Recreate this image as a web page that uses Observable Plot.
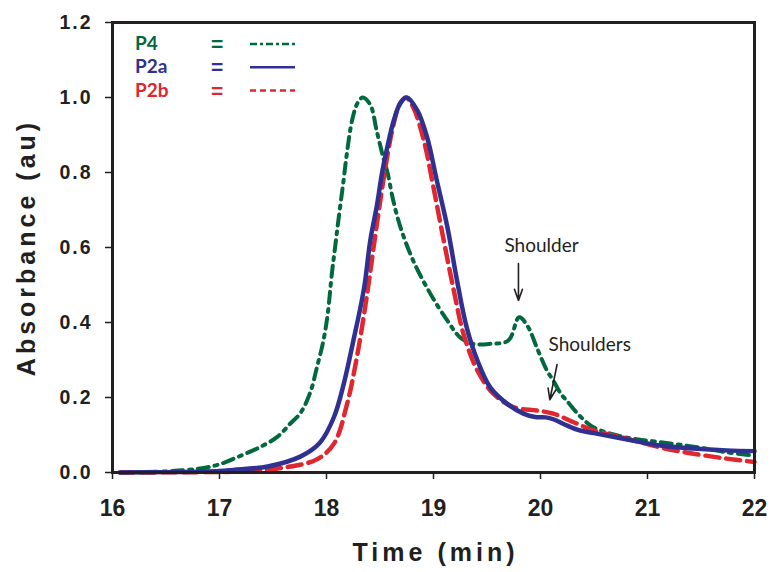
<!DOCTYPE html>
<html>
<head>
<meta charset="utf-8">
<script src="https://cdn.jsdelivr.net/npm/d3@7"></script>
<script src="https://cdn.jsdelivr.net/npm/@observablehq/plot@0.6"></script>
<style>
  body { margin: 0; background: #fff; }
  #wrap { position: relative; width: 772px; height: 572px; }
  #legend { position: absolute; left: 0; top: 0; width: 772px; height: 120px; pointer-events: none; }
</style>
</head>
<body>
<div id="wrap"></div>
<script>
// ---- data ----
const seriesNames = ["P4", "P2a", "P2b"];
const seriesColors = ["#00693e", "#2e3192", "#e0262f"];

const p4Time = [16.07, 16.5, 16.8, 17.0, 17.2, 17.38, 17.54, 17.66, 17.76, 17.85, 17.91, 17.97, 18.01, 18.05, 18.08, 18.11, 18.16, 18.19, 18.24, 18.29, 18.34, 18.41, 18.47, 18.53, 18.57, 18.62, 18.69, 18.81, 18.97, 19.13, 19.25, 19.37, 19.53, 19.70, 19.80, 19.88, 19.97, 20.06, 20.12, 20.19, 20.25, 20.37, 20.5, 20.81, 21.12, 21.43, 21.74, 22.0];
const p4Abs  = [0.0, 0.003, 0.01, 0.022, 0.045, 0.068, 0.095, 0.13, 0.16, 0.215, 0.28, 0.35, 0.42, 0.53, 0.60, 0.67, 0.78, 0.85, 0.94, 0.985, 1.0, 0.98, 0.91, 0.84, 0.80, 0.73, 0.655, 0.565, 0.477, 0.405, 0.36, 0.343, 0.343, 0.352, 0.414, 0.39, 0.33, 0.272, 0.245, 0.21, 0.19, 0.15, 0.12, 0.093, 0.081, 0.069, 0.054, 0.045];

const p2aTime = [16.07, 16.5, 17.0, 17.13, 17.45, 17.76, 17.94, 18.07, 18.16, 18.25, 18.35, 18.41, 18.47, 18.52, 18.57, 18.63, 18.69, 18.75, 18.85, 18.94, 19.03, 19.13, 19.22, 19.31, 19.41, 19.53, 19.69, 19.84, 19.95, 20.05, 20.12, 20.25, 20.37, 20.5, 20.81, 21.12, 21.43, 21.74, 22.0];
const p2aAbs  = [0.0, 0.001, 0.004, 0.007, 0.016, 0.043, 0.08, 0.148, 0.235, 0.35, 0.49, 0.62, 0.71, 0.80, 0.87, 0.94, 0.985, 1.0, 0.965, 0.894, 0.78, 0.654, 0.512, 0.387, 0.299, 0.227, 0.183, 0.157, 0.148, 0.147, 0.142, 0.125, 0.112, 0.105, 0.088, 0.072, 0.064, 0.059, 0.057];

const p2bTime = [16.07, 16.8, 17.22, 17.6, 17.91, 18.07, 18.19, 18.29, 18.38, 18.44, 18.5, 18.56, 18.62, 18.68, 18.74, 18.81, 18.91, 19.0, 19.09, 19.19, 19.28, 19.41, 19.56, 19.75, 19.97, 20.12, 20.31, 20.5, 20.81, 21.12, 21.43, 21.74, 22.0];
const p2bAbs  = [0.0, 0.001, 0.003, 0.013, 0.035, 0.077, 0.18, 0.317, 0.477, 0.60, 0.72, 0.83, 0.92, 0.98, 1.0, 0.974, 0.885, 0.76, 0.627, 0.485, 0.37, 0.272, 0.21, 0.174, 0.165, 0.157, 0.134, 0.112, 0.09, 0.067, 0.05, 0.037, 0.028];

const xTicks = [16, 17, 18, 19, 20, 21, 22];
const yTicks = [0, 0.2, 0.4, 0.6, 0.8, 1.0, 1.2];
const xTitle = "Time (min)";
const yTitle = "Absorbance (au)";

const noteText = ["Shoulder", "Shoulders"];
const noteTime = [20.01, 20.075];
const noteAbs  = [0.587, 0.323];
const noteAnchor = ["middle", "start"];
const arrowFromTime = [19.794, 20.155];
const arrowFromAbs  = [0.557, 0.288];
const arrowToTime   = [19.794, 20.087];
const arrowToAbs    = [0.459, 0.194];

// ---- build ----
const rows = (t, a) => t.map((x, i) => ({time: x, abs: a[i]}));
const p4 = rows(p4Time, p4Abs), p2a = rows(p2aTime, p2aAbs), p2b = rows(p2bTime, p2bAbs);
const notes = noteText.map((s, i) => ({text: s, time: noteTime[i], abs: noteAbs[i], anchor: noteAnchor[i]}));
const arrows = arrowFromTime.map((t, i) => ({x1: t, y1: arrowFromAbs[i], x2: arrowToTime[i], y2: arrowToAbs[i]}));

const ink = "#231f20";
const font = "'Liberation Sans', Arial, Helvetica, sans-serif";
const noteFont = "Lato, 'Open Sans', sans-serif";

const noteMarks = ["middle", "start"].map(a =>
  Plot.text(notes.filter(d => d.anchor === a), {x: "time", y: "abs", text: "text", textAnchor: a, lineAnchor: "bottom", fontSize: 19, fontFamily: noteFont, fill: ink})
);

const chart = Plot.plot({
  width: 772, height: 572,
  marginLeft: 112, marginRight: 18, marginTop: 22, marginBottom: 100,
  style: {fontFamily: font, color: ink, background: "#fff"},
  x: {domain: [16, 22]},
  y: {domain: [0, 1.2]},
  marks: [
    Plot.axisX({ticks: xTicks, tickSize: 7, tickPadding: 20, fontSize: 23, fontWeight: "bold", tickFormat: d3.format("d"), label: null, stroke: ink, strokeWidth: 1.5, fill: ink}),
    Plot.axisY({ticks: yTicks, tickSize: 7, tickPadding: 13, fontSize: 19.5, fontWeight: "bold", tickFormat: d3.format(".1f"), label: null, stroke: ink, strokeWidth: 1.5, fill: ink}),
    Plot.line(p4, {x: "time", y: "abs", stroke: seriesColors[0], strokeWidth: 4, strokeDasharray: "11,6,3,6", curve: "catmull-rom"}),
    Plot.line(p2b, {x: "time", y: "abs", stroke: seriesColors[2], strokeWidth: 4.5, strokeDasharray: "14,7", curve: "catmull-rom"}),
    Plot.line(p2a, {x: "time", y: "abs", stroke: seriesColors[1], strokeWidth: 4.5, curve: "catmull-rom"}),
    Plot.arrow(arrows, {x1: "x1", y1: "y1", x2: "x2", y2: "y2", stroke: ink, strokeWidth: 1.6, headLength: 11, headAngle: 40}),
    ...noteMarks,
    Plot.frame({stroke: ink, strokeWidth: 3}),
    Plot.text([xTitle], {frameAnchor: "bottom", textAnchor: "middle", dy: 88, dx: 2, lineAnchor: "bottom", fontSize: 25, fontWeight: "bold", fill: ink}),
    Plot.text([yTitle], {frameAnchor: "left", textAnchor: "middle", dx: -78, rotate: -90, lineAnchor: "bottom", fontSize: 25, fontWeight: "bold", fill: ink})
  ]
});

// letter spacing for tick labels and axis titles
chart.querySelectorAll("text").forEach(t => {
  const s = t.textContent;
  if (s === xTitle || s === yTitle) t.setAttribute("letter-spacing", "4");
  else if (/^\d\.\d$/.test(s)) t.setAttribute("letter-spacing", "2");
});

const wrap = document.getElementById("wrap");
wrap.appendChild(chart);

// ---- legend (inside the frame, top-left) ----
const dashes = ["7,3,3,3", null, "6,4"];
const ns = "http://www.w3.org/2000/svg";
const leg = document.createElementNS(ns, "svg");
leg.setAttribute("id", "legend");
leg.setAttribute("width", 772);
leg.setAttribute("height", 120);
seriesNames.forEach((name, i) => {
  const base = 50 + i * 23.3;
  const t1 = document.createElementNS(ns, "text");
  t1.setAttribute("x", 135); t1.setAttribute("y", base);
  t1.setAttribute("fill", seriesColors[i]);
  t1.setAttribute("font-family", noteFont);
  t1.setAttribute("font-weight", "bold"); t1.setAttribute("font-size", 19);
  t1.textContent = name; leg.appendChild(t1);
  const t2 = document.createElementNS(ns, "text");
  t2.setAttribute("x", 211); t2.setAttribute("y", base + 1);
  t2.setAttribute("fill", seriesColors[i]);
  t2.setAttribute("font-family", "'Liberation Sans', Arial, sans-serif");
  t2.setAttribute("font-weight", "bold"); t2.setAttribute("font-size", 21);
  t2.textContent = "="; leg.appendChild(t2);
  const ln = document.createElementNS(ns, "line");
  ln.setAttribute("x1", 250); ln.setAttribute("x2", 295);
  ln.setAttribute("y1", base - 6); ln.setAttribute("y2", base - 6);
  ln.setAttribute("stroke", seriesColors[i]);
  ln.setAttribute("stroke-width", 2.5);
  if (dashes[i]) ln.setAttribute("stroke-dasharray", dashes[i]);
  leg.appendChild(ln);
});
wrap.appendChild(leg);
</script>
</body>
</html>
